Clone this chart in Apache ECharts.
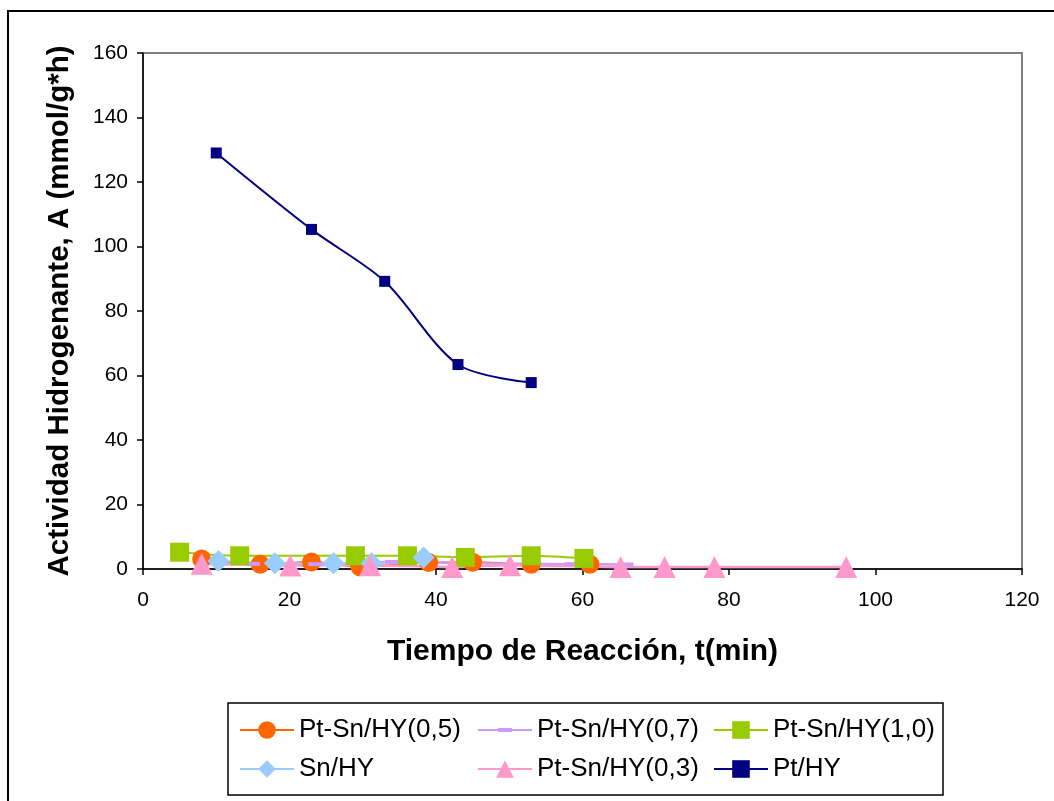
<!DOCTYPE html>
<html>
<head>
<meta charset="utf-8">
<script src="https://cdn.jsdelivr.net/npm/echarts@6/dist/echarts.min.js"></script>
<style>
  html, body { margin: 0; padding: 0; background: #ffffff; }
  #chart { width: 1054px; height: 801px; }
</style>
</head>
<body>
<div id="chart"></div>
<script>
// Reaction time (min) and hydrogenating activity (mmol/g*h) for each catalyst
const ptSn05X = [8, 16, 23, 29.6, 39, 45, 53, 61];
const ptSn05Y = [3.1, 1.5, 2.2, 0.7, 2.0, 2.1, 1.5, 1.5];

const ptSn07X = [15, 23.5, 34, 44, 58.5, 66];
const ptSn07Y = [1.6, 1.5, 2.2, 1.8, 1.5, 1.4];

const ptSn10X = [5, 13.2, 29, 36.1, 44, 53, 60.2];
const ptSn10Y = [5.2, 4.1, 4.1, 4.1, 3.6, 4.1, 3.3];

const snX = [10.3, 18, 26, 31.2, 38.3];
const snY = [2.5, 1.8, 1.8, 1.8, 3.6];

const ptSn03X = [8, 20.1, 31, 42.2, 50.1, 65.2, 71.2, 78, 96];
const ptSn03Y = [1.6, 1.1, 1.2, 0.6, 1.2, 0.6, 0.6, 0.6, 0.6];

const ptX = [10, 23, 33, 43, 53];
const ptY = [129.0, 105.3, 89.2, 63.4, 57.8];

const xTicks = [0, 20, 40, 60, 80, 100, 120];
const yTicks = [0, 20, 40, 60, 80, 100, 120, 140, 160];

const seriesNames = ['Pt-Sn/HY(0,5)', 'Pt-Sn/HY(0,7)', 'Pt-Sn/HY(1,0)', 'Sn/HY', 'Pt-Sn/HY(0,3)', 'Pt/HY'];

function pairs(xs, ys) {
  return xs.map((x, i) => [x, ys[i]]);
}

const FONT = 'Liberation Sans, Arial, sans-serif';

// Legend icon for the dash-marker series: a thin line with a short bar on it,
// padded to the full 54x22 legend item box
const DASH_ICON = 'path://M0,0L0,0M0,10L54,10L54,12L0,12ZM20,9L34,9L34,13L20,13ZM54,22L54,22';

function lineSeries(name, xs, ys, color, symbol, size, width, extra) {
  return Object.assign({
    name: name,
    type: 'line',
    data: pairs(xs, ys),
    smooth: 0.3,
    symbol: symbol,
    symbolSize: size,
    showAllSymbol: true,
    lineStyle: { color: color, width: width },
    itemStyle: { color: color, opacity: 1 },
    emphasis: { disabled: true },
    animation: false
  }, extra || {});
}

const chart = echarts.init(document.getElementById('chart'), null, { renderer: 'canvas' });

const legendBase = {
  orient: 'vertical',
  top: 712,
  itemWidth: 54,
  itemHeight: 22,
  itemGap: 13,
  textStyle: { fontFamily: FONT, fontSize: 26, color: '#000' }
};

chart.setOption({
  backgroundColor: '#ffffff',
  animation: false,
  grid: {
    left: 143, right: 32, top: 53, bottom: 232,
    show: true, borderColor: '#808080', borderWidth: 2
  },
  xAxis: {
    type: 'value',
    min: xTicks[0], max: xTicks[xTicks.length - 1], interval: 20,
    name: 'Tiempo de Reacción, t(min)',
    nameLocation: 'middle',
    nameGap: 68,
    nameTextStyle: { fontFamily: FONT, fontSize: 30, fontWeight: 'bold', color: '#000' },
    axisLine: { show: true, lineStyle: { color: '#000', width: 1.5 } },
    axisTick: { show: true, inside: false, length: 6, lineStyle: { color: '#000', width: 1.5 } },
    axisLabel: { fontFamily: FONT, fontSize: 21, color: '#000', margin: 21 },
    splitLine: { show: false }
  },
  yAxis: {
    type: 'value',
    min: yTicks[0], max: yTicks[yTicks.length - 1], interval: 20,
    name: 'Actividad Hidrogenante, A (mmol/g*h)',
    nameLocation: 'middle',
    nameGap: 68,
    nameRotate: 90,
    nameTextStyle: { fontFamily: FONT, fontSize: 29.5, fontWeight: 'bold', color: '#000' },
    axisLine: { show: true, lineStyle: { color: '#000', width: 1.5 } },
    axisTick: { show: true, inside: false, length: 6, lineStyle: { color: '#000', width: 1.5 } },
    axisLabel: { fontFamily: FONT, fontSize: 21, color: '#000', margin: 15 },
    splitLine: { show: false }
  },
  legend: [
    Object.assign({}, legendBase, { left: 234, data: [seriesNames[0], seriesNames[3]] }),
    Object.assign({}, legendBase, { left: 472, data: [{ name: seriesNames[1], icon: DASH_ICON }, seriesNames[4]] }),
    Object.assign({}, legendBase, { left: 708, data: [seriesNames[2], seriesNames[5]] })
  ],
  graphic: [
    {
      type: 'rect', silent: true, z: -1,
      shape: { x: 8, y: 11, width: 1060, height: 800 },
      style: { fill: 'none', stroke: '#000', lineWidth: 2 }
    },
    {
      type: 'rect', silent: true,
      shape: { x: 228, y: 703, width: 715, height: 92 },
      style: { fill: 'none', stroke: '#000', lineWidth: 1.5 }
    }
  ],
  series: [
    lineSeries(seriesNames[0], ptSn05X, ptSn05Y, '#FF6600', 'circle', 19, 2),
    lineSeries(seriesNames[1], ptSn07X, ptSn07Y, '#CC99FF', 'rect', [14, 4], 2.5),
    lineSeries(seriesNames[2], ptSn10X, ptSn10Y, '#99CC00', 'rect', 19, 2),
    lineSeries(seriesNames[3], snX, snY, '#99CCFF', 'diamond', 22, 2),
    lineSeries(seriesNames[4], ptSn03X, ptSn03Y, '#FF99CC', 'triangle', 22, 2.5),
    lineSeries(seriesNames[5], ptX, ptY, '#000080', 'rect', 11, 2)
  ]
});
</script>
</body>
</html>
